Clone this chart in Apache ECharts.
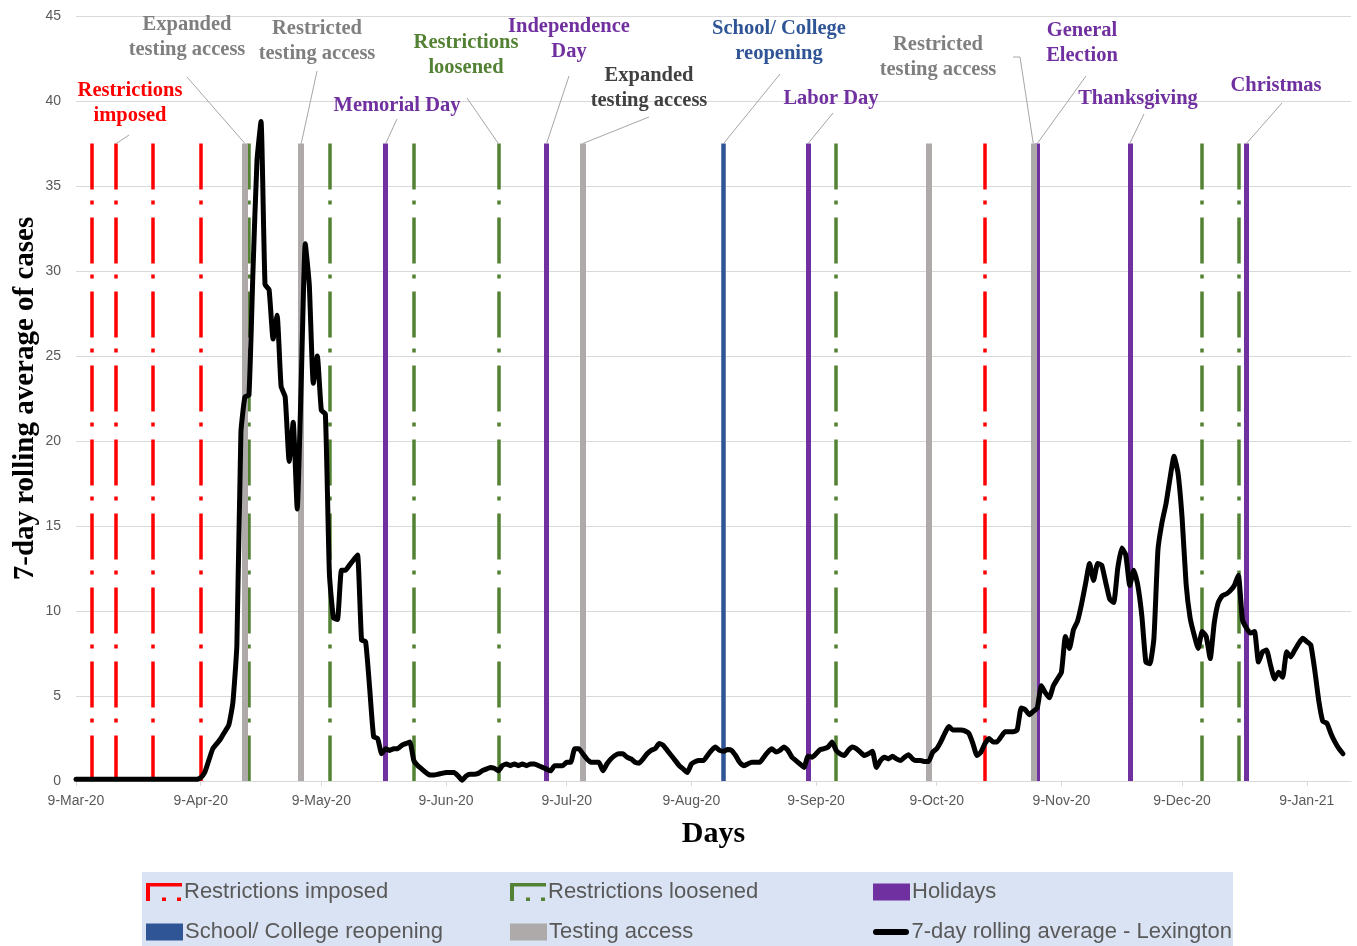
<!DOCTYPE html>
<html><head><meta charset="utf-8">
<script src="https://cdn.jsdelivr.net/npm/echarts@6/dist/echarts.min.js"></script>
<style>html,body{margin:0;padding:0;background:#fff}#c{width:1357px;height:946px}</style>
</head><body><div id="c"></div>
<script>
// ---------------- data ----------------
const startDate = '2020-03-09';
const dayCount = 318; // 9-Mar-20 .. 20-Jan-21
const monthNames = ['Jan','Feb','Mar','Apr','May','Jun','Jul','Aug','Sep','Oct','Nov','Dec'];
const yTicks = [0, 5, 10, 15, 20, 25, 30, 35, 40, 45];

// 7-day rolling average, one value per day from 9-Mar-20
const rollingAvg = [
  0.1,0.1,0.1,0.1,0.1,0.1,0.1,0.1,0.1,0.1,
  0.1,0.1,0.1,0.1,0.1,0.1,0.1,0.1,0.1,0.1,
  0.1,0.1,0.1,0.1,0.1,0.1,0.1,0.1,0.1,0.1,
  0.1,0.2,0.5,1.2,1.9,2.2,2.5,2.9,3.3,4.6,
  8.0,20.5,22.6,22.7,30.0,36.5,38.8,29.2,28.9,26.0,
  27.4,23.2,22.6,18.8,21.1,16.0,23.5,31.6,29.2,23.4,
  25.0,21.8,21.6,12.2,9.6,9.5,12.4,12.4,12.7,13.0,
  13.3,8.3,8.2,5.5,2.6,2.5,1.6,1.9,1.8,1.9,
  1.9,2.1,2.2,2.3,1.2,0.9,0.7,0.5,0.35,0.35,
  0.4,0.45,0.5,0.5,0.5,0.3,0.05,0.3,0.4,0.4,
  0.45,0.6,0.7,0.8,0.75,0.6,0.9,1.0,0.9,1.0,
  0.9,1.0,0.9,1.0,1.0,0.9,0.8,0.7,0.6,0.9,
  0.9,0.9,1.1,1.1,1.9,1.9,1.6,1.3,1.1,1.1,
  1.1,0.6,1.0,1.3,1.5,1.6,1.6,1.4,1.3,1.1,
  1.05,1.3,1.6,1.8,1.9,2.2,2.1,1.8,1.5,1.2,
  0.9,0.7,0.5,1.0,1.15,1.2,1.2,1.5,1.8,2.0,
  1.8,1.75,1.85,1.8,1.5,1.1,0.9,1.0,1.1,1.1,
  1.1,1.4,1.7,1.9,1.7,1.8,2.0,1.8,1.4,1.2,
  1.0,0.8,1.45,1.4,1.6,1.85,1.9,2.0,2.3,1.8,
  1.6,1.5,1.8,2.0,1.9,1.7,1.5,1.6,1.75,0.8,
  1.2,1.4,1.3,1.45,1.3,1.2,1.4,1.55,1.3,1.2,
  1.2,1.15,1.15,1.7,1.9,2.3,2.8,3.2,3.0,3.0,
  3.0,2.95,2.8,2.2,1.5,1.7,2.2,2.5,2.3,2.3,
  2.6,2.9,2.9,2.9,3.0,4.3,4.2,3.9,4.1,4.3,
  5.6,5.2,4.9,5.6,6.0,6.4,8.5,7.8,8.9,9.4,
  10.4,11.6,12.8,11.8,12.8,12.7,11.7,10.7,10.5,12.5,
  13.7,13.3,11.5,12.4,11.5,9.7,7.0,6.9,8.4,13.6,
  15.2,16.3,17.8,19.1,18.1,15.5,11.6,9.6,8.6,7.8,
  8.8,8.5,7.2,9.3,10.5,10.9,11.0,11.2,11.5,12.1,
  9.5,9.0,8.7,8.8,7.0,7.6,7.7,6.8,6.0,6.4,
  6.1,7.6,7.3,7.7,8.1,8.4,8.2,8.0,6.5,4.7,
  3.5,3.4,2.8,2.3,1.9,1.6
];

const restrictionsImposed = ['2020-03-13','2020-03-19','2020-03-28','2020-04-09','2020-10-21'];
const restrictionsLoosened = ['2020-04-21','2020-05-11','2020-06-01','2020-06-22','2020-09-14','2020-12-14','2020-12-23'];
const holidays = ['2020-05-25','2020-07-04','2020-09-07','2020-11-03','2020-11-26','2020-12-25'];
const schoolReopening = ['2020-08-17'];
const testingAccess = ['2020-04-20','2020-05-04','2020-07-13','2020-10-07','2020-11-02'];
const eventLineTop = 37.5;

const seriesNames = ['Restrictions imposed','Restrictions loosened','Holidays','School/ College reopening','Testing access','7-day rolling average - Lexington'];

// ---------------- build ----------------
const dates = [];
{
  const p = startDate.split('-').map(Number);
  const t0 = Date.UTC(p[0], p[1]-1, p[2]);
  for (let i = 0; i < dayCount; i++) {
    const d = new Date(t0 + i*86400000);
    dates.push(d.toISOString().slice(0,10));
  }
}
function fmtDate(s){
  const p = s.split('-');
  return (+p[2]) + '-' + monthNames[(+p[1])-1] + '-' + p[0].slice(2);
}
const isTickDay = (idx, val) => (val || dates[idx]).slice(8,10) === '09';

function vlines(list){
  return list.map(d => [{xAxis: d, yAxis: eventLineTop}, {xAxis: d, yAxis: 0}]);
}
function markSeries(name, list, color, width, type){
  return {
    name, type:'line', data:[], z:2,
    itemStyle:{color}, lineStyle:{color},
    markLine:{
      silent:true, symbol:['none','none'], label:{show:false},
      lineStyle:{color, width, type, cap:'butt', opacity:1},
      emphasis:{disabled:true},
      animation:false,
      data: vlines(list)
    }
  };
}

const chart = echarts.init(document.getElementById('c'), null, {renderer:'canvas'});

const dashDot = [46, 11, 4, 13];
const bracketIcon = 'path://M0,0H36V3.5H4V18H0Z M16,14.5H20V18H16Z M31,14.5H35V18H31Z';
const lineIcon = 'path://M3,0H33A3,3 0 0 1 33,6H3A3,3 0 0 1 3,0Z';

const legendPos = [[146,881],[510,881],[873,881],[146,921],[510,921],[873,921]];
const legendIcons = [bracketIcon, bracketIcon, 'rect', 'rect', 'rect', lineIcon];
const legendColors = ['#ff0000','#548235','#7030a0','#2f5597','#aeaaaa','#000000'];
const legends = seriesNames.map((n,i)=>({
  data:[{name:n, icon:legendIcons[i], itemStyle:{color:legendColors[i]}}],
  left:legendPos[i][0], top: legendPos[i][1],
  padding:0, itemWidth: i<2 ? 36 : 37, itemHeight: i===5 ? 6 : (i<2 ? 18 : 17),
  selectedMode:false,
  textStyle:{fontSize:22, color:'#595959', fontFamily:'Liberation Sans', padding:[0,0,0,-3]}
}));

const option = {
  animation:false,
  backgroundColor:'#ffffff',
  grid:{left:76, right:6, top:16, bottom:165, containLabel:false, outerBoundsMode:'none'},
  legend: legends,
  xAxis:{
    type:'category', data:dates, boundaryGap:false,
    name:'Days', nameLocation:'middle', nameGap:38, nameMoveOverlap:false,
    nameTextStyle:{fontFamily:'Liberation Serif', fontWeight:'bold', fontSize:30, color:'#000'},
    axisLine:{lineStyle:{color:'#d9d9d9', width:1}},
    axisTick:{show:true, interval:isTickDay, length:5, lineStyle:{color:'#d9d9d9'}},
    axisLabel:{interval:isTickDay, formatter:v=>fmtDate(v), color:'#595959', fontSize:14, fontFamily:'Liberation Sans', margin:13},
    splitLine:{show:false}
  },
  yAxis:{
    type:'value', min:yTicks[0], max:yTicks[yTicks.length-1], interval:yTicks[1]-yTicks[0],
    name:'7-day rolling average of cases', nameLocation:'middle', nameGap:36, nameMoveOverlap:false,
    nameTextStyle:{fontFamily:'Liberation Serif', fontWeight:'bold', fontSize:29, color:'#000'},
    axisLine:{show:false}, axisTick:{show:false},
    axisLabel:{color:'#595959', fontSize:14, fontFamily:'Liberation Sans', margin:15},
    splitLine:{lineStyle:{color:'#d9d9d9', width:1}}
  },
  series:[
    markSeries(seriesNames[0], restrictionsImposed, '#ff0000', 3.5, dashDot),
    markSeries(seriesNames[1], restrictionsLoosened, '#548235', 3.5, dashDot),
    markSeries(seriesNames[2], holidays, '#7030a0', 5, 'solid'),
    markSeries(seriesNames[3], schoolReopening, '#2f5597', 4.5, 'solid'),
    markSeries(seriesNames[4], testingAccess, '#aeaaaa', 6, 'solid'),
    {
      name: seriesNames[5], type:'line', data:rollingAvg, z:5,
      showSymbol:false, symbol:'none', smooth:0.15,
      itemStyle:{color:'#000'},
      lineStyle:{color:'#000', width:5, join:'round', cap:'round'},
      emphasis:{disabled:true}
    }
  ]
};
chart.setOption(option);

// ---------------- annotations (layout) ----------------
const annotations = [
  {lines:['Restrictions','imposed'], x:130, y:91, color:'#ff0000', from:[[129,135]], target:restrictionsImposed[1]},
  {lines:['Expanded','testing access'], x:187, y:25, color:'#7f7f7f', from:[[187,77]], target:testingAccess[0]},
  {lines:['Restricted','testing access'], x:317, y:29, color:'#7f7f7f', from:[[317,71]], target:testingAccess[1]},
  {lines:['Memorial Day'], x:397, y:106, color:'#7030a0', from:[[397,119]], target:holidays[0]},
  {lines:['Restrictions','loosened'], x:466, y:43, color:'#548235', from:[[467,98]], target:restrictionsLoosened[3]},
  {lines:['Independence','Day'], x:569, y:27, color:'#7030a0', from:[[569,76]], target:holidays[1]},
  {lines:['Expanded','testing access'], x:649, y:76, color:'#404040', from:[[649,117]], target:testingAccess[2]},
  {lines:['School/ College','reopening'], x:779, y:29, color:'#2f5597', from:[[780,74]], target:schoolReopening[0]},
  {lines:['Labor Day'], x:831, y:99, color:'#7030a0', from:[[833,113]], target:holidays[2]},
  {lines:['Restricted','testing access'], x:938, y:45, color:'#7f7f7f', from:[[1013,57],[1020,57]], target:testingAccess[4]},
  {lines:['General','Election'], x:1082, y:31, color:'#7030a0', from:[[1086,76]], target:holidays[3]},
  {lines:['Thanksgiving'], x:1138, y:99, color:'#7030a0', from:[[1144,114]], target:holidays[4]},
  {lines:['Christmas'], x:1276, y:86, color:'#7030a0', from:[[1282,103]], target:holidays[5]}
];
const graphics = [
  {type:'rect', shape:{x:142, y:872, width:1091, height:80}, style:{fill:'#dae3f3'}, z:-10, silent:true}
];
annotations.forEach(a=>{
  a.lines.forEach((t,i)=>{
    graphics.push({type:'text', silent:true, z:10, style:{
      text:t, x:a.x, y:a.y + i*24.5, align:'center', verticalAlign:'middle',
      fill:a.color, font:'bold 20.5px "Liberation Serif", serif'
    }});
  });
  const tgt = chart.convertToPixel({gridIndex:0}, [dates.indexOf(a.target), eventLineTop]);
  const pts = a.from.concat([[tgt[0], tgt[1]]]);
  graphics.push({type:'polyline', silent:true, z:9, shape:{points:pts}, style:{stroke:'#a6a6a6', lineWidth:1, fill:null}});
});
chart.setOption({graphic: graphics});
</script></body></html>
